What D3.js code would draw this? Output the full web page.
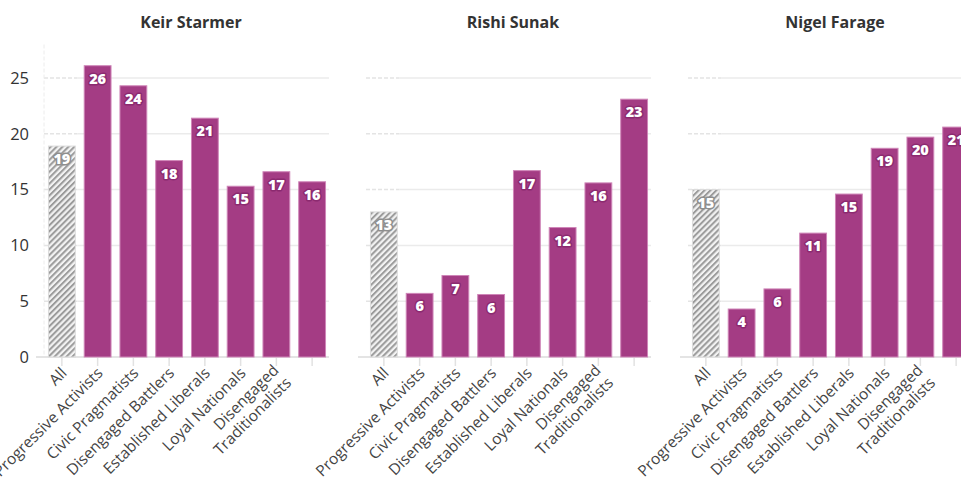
<!DOCTYPE html>
<html>
<head>
<meta charset="utf-8">
<script src="https://cdn.jsdelivr.net/npm/d3@7"></script>
<style>
  body { margin: 0; background: #fff; }
  svg { display: block; font-family: "Open Sans", Lato, sans-serif; }
</style>
</head>
<body>
<svg id="chart" width="961" height="486"></svg>
<script>
// chart data
var candidates = ["Keir Starmer", "Rishi Sunak", "Nigel Farage"];
var categories = ["All", "Progressive Activists", "Civic Pragmatists", "Disengaged Battlers",
                  "Established Liberals", "Loyal Nationals", "Disengaged Traditionalists", "Backbone Conservatives"];
// shown tick labels (the last one is not shown in the original)
var tickLabels = [["All"], ["Progressive Activists"], ["Civic Pragmatists"], ["Disengaged Battlers"],
                  ["Established Liberals"], ["Loyal Nationals"], ["Disengaged", "Traditionalists"], []];
var starmer = [18.9, 26.1, 24.3, 17.6, 21.4, 15.3, 16.6, 15.7];
var sunak   = [13.0, 5.7, 7.3, 5.6, 16.7, 11.6, 15.6, 23.1];
var farage  = [15.0, 4.3, 6.1, 11.1, 14.6, 18.7, 19.7, 20.6];
var yTicks  = [0, 5, 10, 15, 20, 25];

var series = [starmer, sunak, farage];

var svg = d3.select("#chart");
var panelStep = 322,
    plotLeft = 44, plotRight = 330,
    plotTop = 44.5, plotBottom = 357;

var defs = svg.append("defs");
var hatch = defs.append("pattern")
    .attr("id", "hatch")
    .attr("patternUnits", "userSpaceOnUse")
    .attr("width", 4.2).attr("height", 4.2)
    .attr("patternTransform", "rotate(45)");
hatch.append("rect").attr("width", 4.2).attr("height", 4.2).attr("fill", "#f2f2f2");
hatch.append("rect").attr("width", 2).attr("height", 4.2).attr("fill", "#9b9b9b");

var y = d3.scaleLinear().domain([0, 28]).range([plotBottom, plotTop]);

var x = d3.scaleBand()
    .domain(categories)
    .range([plotLeft, plotRight])
    .paddingInner(0.25)
    .paddingOuter(0.125);

candidates.forEach(function(name, i) {
    var g = svg.append("g").attr("transform", "translate(" + (i * panelStep) + ",0)");
    var values = series[i];
    var data = categories.map(function(c, j) { return {cat: c, value: values[j], label: tickLabels[j]}; });
    var allEnd = x("All") + x.bandwidth() + 2;
    var gridTicks = yTicks.filter(function(t) { return t > 0; });

    // grid lines: dashed over the "All" column, solid afterwards
    var grid = g.append("g").attr("class", "grid");
    grid.selectAll("line.dash")
        .data(gridTicks)
        .enter().append("line")
        .attr("class", "dash")
        .attr("x1", plotLeft).attr("x2", allEnd)
        .attr("y1", function(d) { return y(d); }).attr("y2", function(d) { return y(d); })
        .attr("stroke", "#e4e4e4").attr("stroke-width", 1.5)
        .attr("stroke-dasharray", "4,2");
    grid.selectAll("line.solid")
        .data(gridTicks)
        .enter().append("line")
        .attr("class", "solid")
        .attr("x1", allEnd).attr("x2", plotRight - 1)
        .attr("y1", function(d) { return y(d); }).attr("y2", function(d) { return y(d); })
        .attr("stroke", "#ebebeb").attr("stroke-width", 1.5);

    if (i === 0) {
        grid.append("line")
            .attr("x1", plotLeft).attr("x2", plotLeft)
            .attr("y1", plotTop).attr("y2", plotBottom)
            .attr("stroke", "#ececec").attr("stroke-width", 1)
            .attr("stroke-dasharray", "4,2");

        var yAxis = g.append("g")
            .attr("transform", "translate(" + plotLeft + ",0)")
            .call(d3.axisLeft(y).tickValues(yTicks).tickSize(0).tickPadding(15));
        yAxis.select(".domain").remove();
        yAxis.selectAll("text")
            .attr("font-family", "'Open Sans', sans-serif")
            .attr("font-size", 16.5)
            .attr("fill", "#333");
    }

    // x axis ticks + baseline
    var xAxis = g.append("g")
        .attr("transform", "translate(0," + plotBottom + ")")
        .call(d3.axisBottom(x).tickSize(9).tickSizeOuter(0).tickFormat(""));
    xAxis.select(".domain")
        .attr("d", "M" + (plotLeft - 8) + ",0H" + (plotRight - 1))
        .attr("stroke", "#e4e4e4").attr("stroke-width", 2);
    xAxis.selectAll(".tick line").attr("stroke", "#e2e2e2").attr("stroke-width", 1.5);

    // rotated category labels
    var lab = g.append("g").attr("class", "xlabels")
        .selectAll("text")
        .data(data)
        .enter().append("text")
        .attr("transform", function(d) {
            var cx = x(d.cat) + x.bandwidth() / 2 + 6;
            return "translate(" + cx + "," + (plotBottom + 17) + ") rotate(-45)";
        })
        .attr("text-anchor", "end")
        .attr("font-size", 15.5)
        .attr("fill", "#444");
    lab.each(function(d) {
        var t = d3.select(this);
        var n = d.label.length;
        d.label.forEach(function(line, k) {
            t.append("tspan")
                .attr("x", 0)
                .attr("dy", k === 0 ? (n > 1 ? "-0.25em" : "0em") : "1.15em")
                .text(line);
        });
    });

    // bars
    g.append("g").attr("class", "bars")
        .selectAll("rect")
        .data(data)
        .enter().append("rect")
        .attr("x", function(d) { return x(d.cat); })
        .attr("y", function(d) { return y(d.value); })
        .attr("width", x.bandwidth())
        .attr("height", function(d) { return y(0) - y(d.value); })
        .attr("fill", function(d) { return d.cat === "All" ? "url(#hatch)" : "#a43c84"; })
        .attr("stroke", function(d) { return d.cat === "All" ? "#dcdcdc" : "#cf86b8"; })
        .attr("stroke-width", 1);

    // value labels
    g.append("g").attr("class", "values")
        .selectAll("text")
        .data(data)
        .enter().append("text")
        .attr("x", function(d) { return x(d.cat) + x.bandwidth() / 2; })
        .attr("y", function(d) { return y(d.value) + 18; })
        .attr("text-anchor", "middle")
        .attr("font-size", 14.5)
        .attr("font-weight", 800)
        .attr("fill", "#fff")
        .attr("stroke", function(d) { return d.cat === "All" ? "#8e8e8e" : "#8c2a70"; })
        .attr("stroke-width", 3)
        .attr("stroke-linejoin", "round")
        .attr("paint-order", "stroke")
        .text(function(d) { return Math.round(d.value); });

    // panel title
    g.append("text")
        .attr("x", (plotLeft + plotRight) / 2 + 4)
        .attr("y", 28)
        .attr("text-anchor", "middle")
        .attr("font-size", 16)
        .attr("font-weight", 700)
        .attr("fill", "#333")
        .text(name);
});
</script>
</body>
</html>
